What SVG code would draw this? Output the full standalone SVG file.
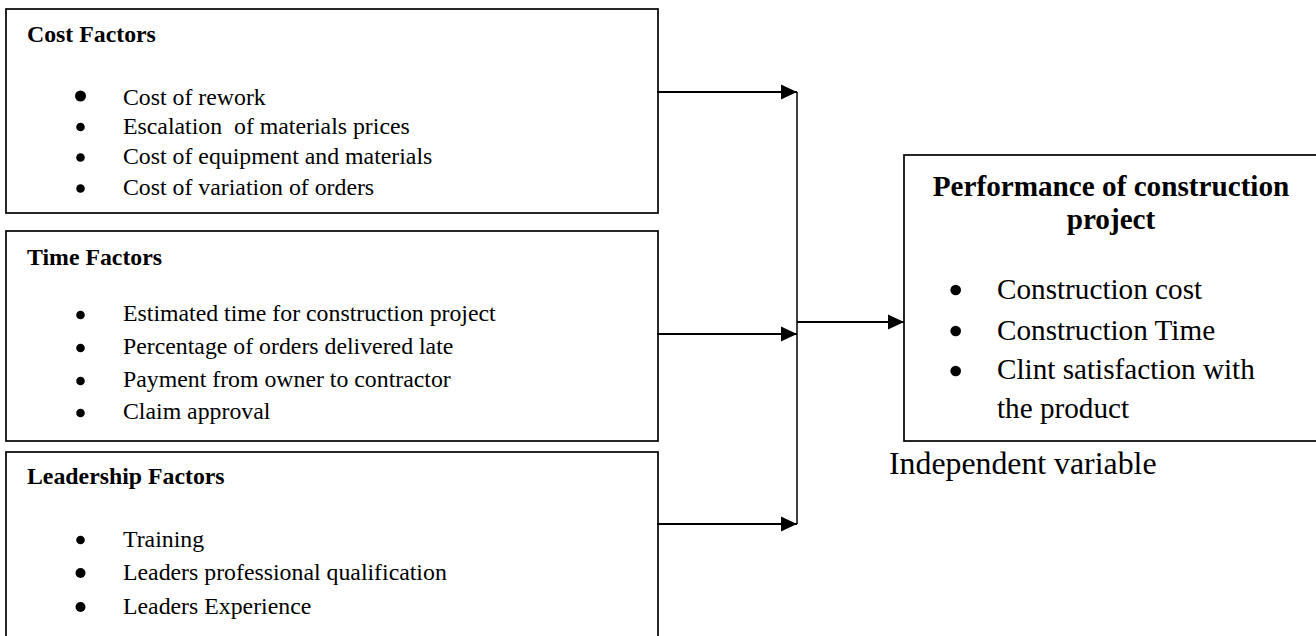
<svg xmlns="http://www.w3.org/2000/svg" width="1316" height="636" viewBox="0 0 1316 636">
<defs>
<style>
.box{fill:#fff;stroke:#000;stroke-width:1.7}
.t{font-family:"Liberation Serif","Times New Roman",serif;fill:#000}
.h{font-size:23.8px;font-weight:bold}
.i{font-size:23.8px}
.H{font-size:29.2px;font-weight:bold}
.I{font-size:29.2px}
.ln{stroke:#000;stroke-width:2;fill:none}
.vl{stroke:#000;stroke-width:1.5;fill:none}
</style>
<marker id="ah" markerWidth="16" markerHeight="16" refX="16" refY="8" orient="auto" markerUnits="userSpaceOnUse">
<path d="M0,0.5 L16,8 L0,15.5 Z" fill="#000"/>
</marker>
</defs>
<rect width="1316" height="636" fill="#fff"/>
<g id="cost-factors">
<rect class="box" x="6" y="9" width="652" height="204"/>
<text class="t h" x="27" y="42">Cost Factors</text>
<circle cx="80.5" cy="96" r="5.5"/>
<circle cx="80.5" cy="127" r="4.3"/>
<circle cx="80.5" cy="157.5" r="4.3"/>
<circle cx="80.5" cy="188.5" r="4.3"/>
<text class="t i" x="123" y="105">Cost of rework</text>
<text class="t i" x="123" y="134" xml:space="preserve">Escalation  of materials prices</text>
<text class="t i" x="123" y="164">Cost of equipment and materials</text>
<text class="t i" x="123" y="195">Cost of variation of orders</text>
</g>
<g id="time-factors">
<rect class="box" x="6" y="231" width="652" height="210"/>
<text class="t h" x="27" y="265">Time Factors</text>
<circle cx="80.5" cy="315" r="4.3"/>
<circle cx="80.5" cy="348" r="4.3"/>
<circle cx="80.5" cy="381" r="4.3"/>
<circle cx="80.5" cy="413" r="4.3"/>
<text class="t i" x="123" y="321">Estimated time for construction project</text>
<text class="t i" x="123" y="354">Percentage of orders delivered late</text>
<text class="t i" x="123" y="387">Payment from owner to contractor</text>
<text class="t i" x="123" y="419">Claim approval</text>
</g>
<g id="leadership-factors">
<rect class="box" x="6" y="452" width="652" height="200"/>
<text class="t h" x="27" y="484">Leadership Factors</text>
<circle cx="80.5" cy="540" r="4.3"/>
<circle cx="80.5" cy="573" r="5"/>
<circle cx="80.5" cy="607" r="5"/>
<text class="t i" x="123" y="547">Training</text>
<text class="t i" x="123" y="580">Leaders professional qualification</text>
<text class="t i" x="123" y="614">Leaders Experience</text>
</g>
<g id="performance">
<rect class="box" x="904" y="155" width="420" height="286"/>
<text class="t H" x="1111" y="196" text-anchor="middle">Performance of construction</text>
<text class="t H" x="1111" y="229" text-anchor="middle">project</text>
<circle cx="955.7" cy="290" r="5.3"/>
<circle cx="955.7" cy="331" r="5.3"/>
<circle cx="955.7" cy="371" r="5.3"/>
<text class="t I" x="997" y="299">Construction cost</text>
<text class="t I" x="997" y="340">Construction Time</text>
<text class="t I" x="997" y="379">Clint satisfaction with</text>
<text class="t I" x="997" y="418">the product</text>
</g>
<g id="label">
<text class="t" x="889" y="474" style="font-size:31.8px">Independent variable</text>
</g>
<g id="connectors">
<line class="ln" x1="657" y1="92" x2="797" y2="92" marker-end="url(#ah)"/>
<line class="ln" x1="657" y1="334" x2="797" y2="334" marker-end="url(#ah)"/>
<line class="ln" x1="657" y1="524" x2="797" y2="524" marker-end="url(#ah)"/>
<line class="vl" x1="797" y1="92" x2="797" y2="524"/>
<line class="ln" x1="797" y1="322" x2="904" y2="322" marker-end="url(#ah)"/>
</g>
</svg>
